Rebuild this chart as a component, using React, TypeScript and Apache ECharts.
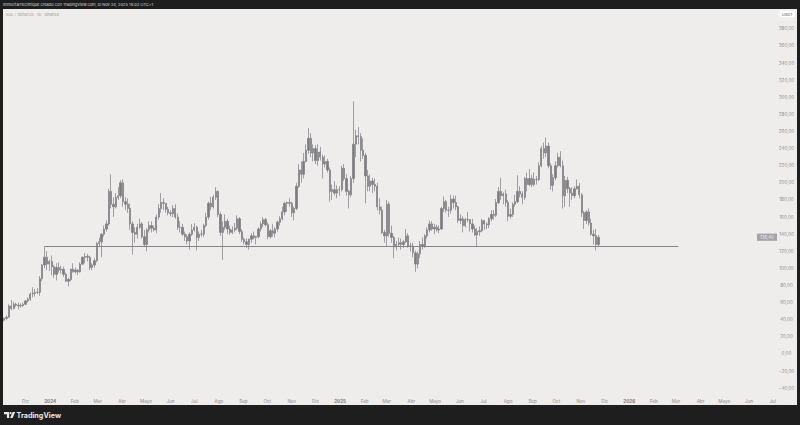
import React, { useEffect, useRef } from "react";
import * as echarts from "echarts";

// 3-day candles [open, close, low, high] for SOL/USDT
const sol2023: number[][] = [
  [39.5, 41.5, 38, 42.5], [41.5, 43, 40, 45], [43, 56, 42, 58], [56, 53, 51, 63], [53, 58, 52, 61],
  [58, 57, 55, 60], [57, 56, 52, 60], [56, 56.5, 54, 59], [56.5, 58, 55, 60], [58, 62, 57, 63],
  [62, 64, 60, 66], [64, 70, 62, 72], [70, 71, 66, 78], [71, 72, 67, 76], [72, 72, 70, 77],
  [72, 88, 68, 91], [88, 104, 85, 105], [104, 113, 100, 126], [113, 105, 98, 120], [105, 108, 97, 110],
];
const sol2024: number[][] = [
  [108, 102, 92, 115], [102, 93, 89, 104], [93, 101, 86, 106], [101, 98, 95, 107], [98, 99, 94, 103],
  [99, 93, 90, 102], [93, 85, 84, 95], [85, 87, 79, 89], [87, 99, 85, 100], [99, 96, 95, 106],
  [96, 98, 94, 101], [98, 96, 92, 99], [96, 105, 95, 107], [105, 113, 104, 114], [113, 114, 106, 118],
  [114, 113, 108, 117], [113, 101, 98, 115], [101, 104, 98, 106], [104, 109, 101, 112], [109, 129, 107, 131],
  [129, 131, 125, 136], [131, 140, 113, 141], [140, 146, 137, 150], [146, 152, 143, 156], [152, 190, 150, 193],
  [190, 175, 170, 210], [175, 172, 160, 183], [172, 183, 170, 188], [183, 185, 180, 195], [185, 200, 182, 203],
  [200, 178, 172, 204], [178, 175, 168, 183], [175, 170, 165, 182], [170, 152, 145, 176], [152, 142, 116, 155],
  [142, 140, 130, 148], [140, 148, 135, 152], [148, 152, 146, 158], [152, 137, 135, 154], [137, 128, 125, 145],
  [128, 145, 120, 147], [145, 150, 142, 155], [150, 147, 142, 155], [147, 145, 143, 150], [145, 160, 141, 163],
  [160, 170, 157, 175], [170, 177, 165, 188], [177, 176, 168, 182], [176, 169, 165, 176], [169, 165, 162, 172],
  [165, 164, 161, 168], [164, 170, 160, 174], [170, 160, 158, 175], [160, 148, 145, 164], [148, 148, 142, 155],
  [148, 140, 138, 152], [140, 137, 132, 143], [137, 132, 128, 140], [132, 140, 122, 142], [140, 145, 138, 152],
  [145, 148, 143, 153], [148, 136, 121, 150], [136, 140, 132, 143], [140, 140, 137, 145], [140, 150, 137, 152],
  [150, 160, 148, 165], [160, 176, 157, 178], [176, 172, 168, 184], [172, 183, 170, 186], [183, 190, 180, 195],
  [190, 163, 160, 191], [163, 142, 138, 166], [142, 148, 110, 155], [148, 155, 145, 163], [155, 146, 140, 158],
  [146, 142, 139, 150], [142, 145, 140, 149], [145, 147, 142, 153], [147, 158, 145, 162], [158, 143, 140, 160],
  [143, 134, 131, 146], [134, 131, 128, 136], [131, 128, 124, 135], [128, 134, 122, 135], [134, 138, 130, 141],
  [138, 136, 134, 143], [136, 137, 128, 138], [137, 146, 135, 148], [146, 152, 143, 155], [152, 157, 148, 160],
  [157, 151, 149, 159], [151, 137, 134, 154], [137, 144, 135, 146], [144, 141, 137, 152], [141, 146, 136, 148],
  [146, 154, 143, 156], [154, 158, 150, 161], [158, 166, 156, 172], [166, 176, 162, 178], [176, 177, 166, 178],
  [177, 176, 172, 182], [176, 165, 160, 178], [165, 170, 156, 172], [170, 196, 168, 200], [196, 215, 194, 222],
  [215, 210, 200, 225], [210, 225, 205, 235], [225, 238, 224, 245], [238, 252, 234, 264], [252, 235, 230, 258],
  [235, 240, 225, 245], [240, 226, 222, 244], [226, 236, 220, 245], [236, 230, 226, 242], [230, 222, 205, 233],
  [222, 225, 218, 232], [225, 215, 212, 228], [215, 190, 178, 218], [190, 192, 180, 198], [192, 188, 185, 202],
  [188, 192, 182, 197], [192, 192, 185, 196],
];
const sol2025: number[][] = [
  [192, 217, 190, 220], [217, 205, 202, 222], [205, 190, 185, 210], [190, 186, 170, 192], [186, 205, 183, 208],
  [205, 245, 200, 295], [245, 255, 230, 262], [255, 254, 245, 265], [254, 238, 225, 258], [238, 232, 228, 252],
  [232, 208, 176, 235], [208, 196, 190, 215], [196, 202, 190, 210], [202, 198, 188, 206], [198, 196, 190, 205],
  [196, 172, 168, 200], [172, 168, 163, 182], [168, 142, 140, 172], [142, 138, 130, 145], [138, 175, 126, 180],
  [175, 141, 137, 178], [141, 136, 130, 150], [136, 125, 112, 138], [125, 128, 121, 132], [128, 130, 126, 136],
  [130, 128, 122, 135], [128, 131, 124, 133], [131, 138, 130, 146], [138, 126, 124, 141], [126, 126, 120, 130],
  [126, 118, 113, 130], [118, 105, 96, 121], [105, 117, 100, 120], [117, 128, 112, 132], [128, 126, 122, 136],
  [126, 138, 124, 140], [138, 145, 135, 148], [145, 152, 142, 156], [152, 146, 144, 155], [146, 148, 140, 152],
  [148, 145, 143, 151], [145, 146, 141, 150], [146, 170, 145, 172], [170, 178, 166, 184], [178, 168, 165, 180],
  [168, 168, 160, 172], [168, 181, 164, 186], [181, 177, 170, 185], [177, 172, 168, 185], [172, 156, 153, 173],
  [156, 158, 152, 163], [158, 150, 142, 161], [150, 157, 148, 159], [157, 157, 154, 166], [157, 152, 143, 156],
  [152, 146, 142, 158], [146, 139, 138, 150], [139, 143, 126, 147], [143, 144, 138, 149], [144, 156, 142, 158],
  [156, 152, 145, 156], [152, 151, 146, 154], [151, 158, 147, 160], [158, 163, 155, 168], [163, 162, 157, 168],
  [162, 177, 160, 181], [177, 190, 175, 195], [190, 185, 180, 206], [185, 187, 175, 189], [187, 177, 172, 192],
  [177, 161, 155, 180], [161, 163, 158, 170], [163, 175, 160, 177], [175, 178, 172, 186], [178, 190, 176, 209],
  [190, 187, 183, 196], [187, 183, 175, 190], [183, 205, 180, 207], [205, 198, 190, 212], [198, 205, 196, 216],
  [205, 198, 195, 209], [198, 204, 196, 212], [204, 204, 198, 208], [204, 220, 202, 224], [220, 240, 218, 243],
  [240, 235, 228, 247], [235, 243, 230, 253], [243, 220, 217, 247], [220, 197, 192, 223], [197, 206, 190, 210],
  [206, 220, 203, 225], [220, 230, 218, 235], [230, 220, 218, 237], [220, 185, 170, 226], [185, 203, 172, 208],
  [203, 193, 188, 207], [193, 188, 172, 195], [188, 185, 180, 195], [185, 193, 182, 196], [193, 196, 192, 204],
  [196, 186, 182, 200], [186, 165, 160, 188], [165, 156, 146, 167], [156, 166, 152, 168], [166, 153, 150, 170],
  [153, 140, 138, 158], [140, 138, 128, 145], [138, 128, 121, 146], [128, 136.4, 126, 139],
];

const firstDay = [2023, 10, 3]; // Nov 3, 2023 (first candle day)
const dayCount = 977; // daily categories up to Jul 2026
const candleDays = 3;
const levelValue = 125.6;
const levelFrom = "2023-12-25";
const levelTo = "2026-03-04";
const monthNames = ["Ene", "Feb", "Mar", "Abr", "Mayo", "Jun", "Jul", "Ago", "Sep", "Oct", "Nov", "Dic"];
const yMin = -48;
const yMax = 402;
const yStep = 20;
const headerText = "ImmortalTechnique creado con TradingView.com, el Nov 24, 2025 19:03 UTC+1";
const symbolText = "SOL / TetherUS · 1D · Binance";
const currencyText = "USDT";

const pad = (n: number) => (n < 10 ? "0" + n : "" + n);

export default function App() {
  const ref = useRef<HTMLDivElement>(null);
  useEffect(() => {
    if (!ref.current) return;
    const chart = echarts.init(ref.current, null, { renderer: "svg" });
    const days: string[] = [];
    for (let i = 0; i < dayCount; i++) {
      const d = new Date(Date.UTC(firstDay[0], firstDay[1], firstDay[2] + i));
      days.push(`${d.getUTCFullYear()}-${pad(d.getUTCMonth() + 1)}-${pad(d.getUTCDate())}`);
    }
    const candles = [...sol2023, ...sol2024, ...sol2025];
    const data = candles.map((c, k) => [days[k * candleDays + 1], c[0], c[1], c[2], c[3]]);
    const lastClose = candles[candles.length - 1][1];
    const grey = "#7c7c81";
    const labelColor = "#8e8e90";
    const font = "Inter, 'Noto Sans', sans-serif";

    chart.setOption({
      animation: false,
      backgroundColor: "transparent",
      grid: { left: 3, right: 23, top: 10, bottom: 30 },
      xAxis: {
        type: "category",
        data: days,
        boundaryGap: true,
        axisLine: { show: false },
        axisTick: { show: false },
        splitLine: { show: false },
        axisLabel: {
          interval: (_i: number, v: string) => v.endsWith("-01"),
          formatter: (v: string) => {
            const [y, m] = v.split("-");
            return m === "01" ? `{yr|${y}}` : monthNames[Number(m) - 1];
          },
          fontSize: 4.6,
          color: labelColor,
          fontFamily: font,
          margin: 4,
          hideOverlap: false,
          rich: { yr: { fontSize: 4.6, fontWeight: "bold", color: "#77777a", fontFamily: font } },
        },
      },
      yAxis: {
        type: "value",
        position: "right",
        min: yMin,
        max: yMax,
        minInterval: yStep,
        maxInterval: yStep,
        scale: false,
        axisLine: { show: false },
        axisTick: { show: false },
        splitLine: { show: false },
        axisLabel: {
          showMinLabel: false,
          showMaxLabel: false,
          align: "center",
          margin: 9.5,
          fontSize: 4.6,
          color: labelColor,
          fontFamily: font,
          formatter: (v: number) => {
            if (Math.abs(v % yStep) > 0.001 || v > 390) return "";
            const s = Math.abs(v).toFixed(2).replace(".", ",");
            return v < 0 ? "\u2212" + s : s;
          },
        },
      },
      series: [
        {
          type: "candlestick",
          data,
          encode: { x: 0, y: [1, 2, 3, 4] },
          barWidth: 1.8,
          itemStyle: { color: grey, color0: grey, borderColor: grey, borderColor0: grey, borderWidth: 0.7 },
          markLine: {
            silent: true,
            symbol: "none",
            label: { show: false },
            lineStyle: { color: "#858588", width: 1, type: "solid" },
            data: [[{ coord: [levelFrom, levelValue] }, { coord: [levelTo, levelValue] }]],
          },
        },
      ],
    });

    const py = chart.convertToPixel({ yAxisIndex: 0 }, lastClose) as number;
    chart.setOption({
      graphic: [
        { id: "bg", type: "rect", z: -10, silent: true, shape: { x: 3, y: 9, width: 794, height: 396 }, style: { fill: "#eeedeb" } },
        { id: "hdr", type: "text", z: 100, x: 3, y: 4.6, style: { text: headerText, fill: "#d8d8d8", fontSize: 4, fontFamily: font, verticalAlign: "middle" } },
        { id: "sym", type: "text", z: 100, x: 6, y: 14, style: { text: symbolText, fill: "#9a9a9c", fontSize: 3.8, fontFamily: font, verticalAlign: "middle" } },
        { id: "usdtbox", type: "rect", z: 100, shape: { x: 779.5, y: 10.8, width: 15.5, height: 6.5, r: 1 }, style: { fill: "#ffffff" } },
        { id: "usdt", type: "text", z: 101, x: 787.2, y: 14.1, style: { text: currencyText, fill: "#555", fontSize: 4, fontFamily: font, align: "center", verticalAlign: "middle" } },
        { id: "pbox", type: "rect", z: 100, shape: { x: 757, y: py - 3.6, width: 20, height: 7.2 }, style: { fill: "#a3a3a8" } },
        { id: "ptxt", type: "text", z: 101, x: 767, y: py, style: { text: lastClose.toFixed(2).replace(".", ","), fill: "#f4f4f4", fontSize: 4.4, fontFamily: font, align: "center", verticalAlign: "middle" } },
        { id: "logoT", type: "polygon", z: 100, shape: { points: [[4, 412], [9.2, 412], [9.2, 418], [6.9, 418], [6.9, 414.2], [4, 414.2]] }, style: { fill: "#e8e8e8" } },
        { id: "logoDot", type: "circle", z: 100, shape: { cx: 10.6, cy: 413.1, r: 1.1 }, style: { fill: "#e8e8e8" } },
        { id: "logoV", type: "polygon", z: 100, shape: { points: [[12.6, 412], [15.2, 412], [12.6, 418], [10.1, 418]] }, style: { fill: "#e8e8e8" } },
        { id: "tvtxt", type: "text", z: 100, x: 16.5, y: 415, style: { text: "TradingView", fill: "#e8e8e8", fontSize: 7.2, fontWeight: "bold", fontFamily: font, verticalAlign: "middle" } },
      ],
    });
    return () => chart.dispose();
  }, []);
  return (
    <div
      ref={ref}
      style={{ position: "fixed", left: 0, top: 0, width: 800, height: 425, background: "#1e1e1e" }}
    />
  );
}
